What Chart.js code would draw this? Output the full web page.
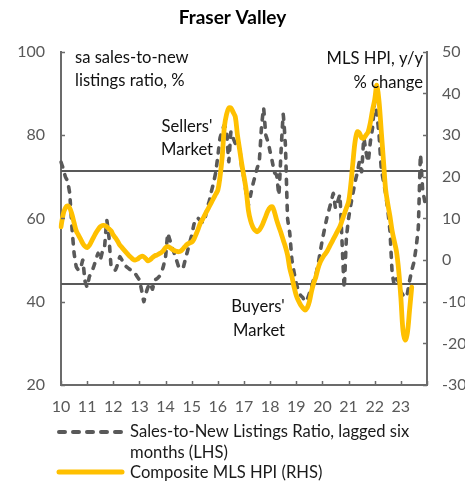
<!DOCTYPE html>
<html>
<head>
<meta charset="utf-8">
<script src="https://cdn.jsdelivr.net/npm/chart.js@4/dist/chart.umd.min.js"></script>
<style>
  html, body { margin: 0; padding: 0; background: #fff; }
  #wrap { position: relative; width: 465px; height: 487px; }
</style>
</head>
<body>
<div id="wrap"><canvas id="chart"></canvas></div>
<script>
// tick labels, one per January
const yearLabels = ['10', '11', '12', '13', '14', '15', '16', '17', '18', '19', '20', '21', '22', '23'];

// monthly categories Jan 2010 .. Jan 2024 (last one is the right edge)
const monthLabels = [];
for (let y = 2010; y <= 2023; y++) {
  for (let m = 1; m <= 12; m++) monthLabels.push(y + '-' + m);
}
monthLabels.push('2024-1');

// sa sales-to-new listings ratio, lagged six months (LHS, %)
const ratioLagged = [
  73.5, 72, 70, 69, 66, 58, 51.7, 48.4, 47.6, 48, 50, 45,          // 2010
  43.5, 46, 47, 48.4, 50, 51.7, 50, 52, 53.2, 59.6, 55.6, 48.4,    // 2011
  47.6, 47.6, 49, 50.8, 50, 49, 48.4, 48, 47.6, 47.2, 46.8, 46,    // 2012
  45.2, 42.8, 40, 42, 43.6, 44.4, 43, 45.2, 45.5, 46, 46.8, 48.5,  // 2013
  50.8, 56.4, 54.8, 53, 51.6, 50, 48.4, 48, 48, 50, 52, 54,        // 2014
  56, 58.5, 60, 60, 59.5, 59, 59.5, 62.5, 64, 66.4, 68.5, 71,      // 2015
  75, 79.3, 81, 82.5, 81, 73.6, 80.8, 79.3, 78, 77.5, 77, 72,      // 2016
  69.7, 66, 63.2, 65.5, 68, 70, 72, 73.6, 81.7, 86.5, 80, 78.4,    // 2017
  76, 73.6, 71, 70.4, 65.6, 76, 85, 77.7, 60, 56.5, 50, 47,        // 2018
  44.5, 42.5, 41.5, 41, 40, 40.5, 42, 43.5, 45.5, 46.5, 49, 52,    // 2019
  55, 57.5, 60, 62, 64, 66, 62.5, 64, 65.6, 54.4, 43.3, 55.3,      // 2020
  60, 63.2, 66, 68.8, 71, 73.6, 71.2, 79.3, 76, 73.6, 78.4, 81.7,  // 2021
  88, 85, 80, 72, 69, 66, 62, 57, 47, 44, 45.5, 44.7,              // 2022
  42.5, 41.6, 41, 42, 45, 47.5, 49.5, 53, 57.7, 75.3, 67, 64       // 2023
];

// composite MLS HPI, y/y % change (RHS)
const hpiYoY = [
  8, 11, 12.5, 13, 12.5, 11, 9, 7, 6, 5, 4, 3.3,                   // 2010
  3, 3.5, 4.5, 5.5, 6.5, 7.3, 8, 8.3, 8.3, 8, 7.5, 7,              // 2011
  6, 5.3, 4.5, 3.6, 3, 2.4, 1.8, 1.2, 0.7, 0.2, 0, 0.2,            // 2012
  0.6, 0.9, 0.8, 0.3, -0.2, 0.1, 0.6, 1, 1.2, 1.5, 1.8, 2.3,       // 2013
  3, 3.2, 3, 2.6, 2.3, 2.1, 2, 2.2, 2.7, 3.3, 3.8, 4.1,            // 2014
  4.3, 5, 6.2, 7.5, 8.9, 9.8, 10.8, 11.8, 12.8, 13.8, 14.8, 15.8,  // 2015
  16.8, 20, 24.8, 32, 35, 36.5, 36.5, 35.5, 34.4, 30, 26.5, 23,    // 2016
  20, 16.8, 12, 9.5, 8, 7.2, 6.8, 7.2, 8, 9.2, 10.5, 11.8,         // 2017
  12.6, 12.8, 11.5, 9.6, 8, 6.5, 4.8, 3.2, 1.2, -2, -4, -6.5,      // 2018
  -8.5, -9.8, -10.8, -11.5, -12, -11.5, -10, -7.5, -5.5, -4, -2, -0.5, // 2019
  0.5, 1.3, 2, 3, 4, 5, 6, 7, 8, 9.5, 11, 12.5,                    // 2020
  14, 18, 23.5, 28.5, 30.8, 30.5, 29.3, 29.3, 30, 30.8, 33, 36,    // 2021
  38.5, 42, 38, 31, 24, 17, 13.5, 10.5, 7, 4.5, 2, -2.5,           // 2022
  -9, -17, -19.2, -17.5, -12, -6.5                                 // 2023
];

// reference levels on the ratio axis
const sellersLevel = 71.4;
const buyersLevel = 44.3;

const axisColor = '#6b6b6b';
const textGrey = '#595959';
const dashGrey = '#595959';
const gold = '#FFC000';
const font = 'Lato, "Noto Sans", sans-serif';

const decor = {
  id: 'decor',
  beforeDatasetsDraw(chart) {
    const {ctx, chartArea: a, scales} = chart;
    ctx.save();
    ctx.strokeStyle = '#595959';
    ctx.lineWidth = 2;
    for (const v of [sellersLevel, buyersLevel]) {
      const y = Math.round(scales.y.getPixelForValue(v));
      ctx.beginPath();
      ctx.moveTo(a.left, y);
      ctx.lineTo(a.right, y);
      ctx.stroke();
    }
    ctx.restore();
  },
  afterDraw(chart) {
    const {ctx, chartArea: a, scales} = chart;
    ctx.save();
    // inward tick marks
    ctx.strokeStyle = axisColor;
    ctx.lineWidth = 1.5;
    ctx.beginPath();
    for (let i = 0; i < monthLabels.length; i += 12) {
      const x = Math.round(scales.x.getPixelForValue(i)) + 0.5;
      ctx.moveTo(x, a.bottom);
      ctx.lineTo(x, a.bottom - 4);
    }
    for (const t of scales.y.ticks) {
      const y = Math.round(scales.y.getPixelForValue(t.value)) + 0.5;
      ctx.moveTo(a.left, y);
      ctx.lineTo(a.left + 4, y);
    }
    for (const t of scales.y1.ticks) {
      const y = Math.round(scales.y1.getPixelForValue(t.value)) + 0.5;
      ctx.moveTo(a.right, y);
      ctx.lineTo(a.right - 4, y);
    }
    ctx.stroke();

    // annotations
    ctx.fillStyle = '#111';
    ctx.font = '16.6px ' + font;
    ctx.textBaseline = 'middle';
    ctx.textAlign = 'left';
    ctx.fillText('sa sales-to-new', 75, 58);
    ctx.fillText('listings ratio, %', 75, 81);
    ctx.textAlign = 'right';
    ctx.fillText('MLS HPI, y/y', 423, 59);
    ctx.fillText('% change', 423, 83);
    ctx.textAlign = 'center';
    ctx.fillText("Sellers'", 187, 127);
    ctx.fillText('Market', 187, 150);
    ctx.fillText("Buyers'", 258, 307);
    ctx.fillText('Market', 259, 331);

    // legend
    ctx.lineCap = 'round';
    ctx.strokeStyle = dashGrey;
    ctx.lineWidth = 4;
    ctx.setLineDash([6, 8]);
    ctx.beginPath();
    ctx.moveTo(59, 432);
    ctx.lineTo(122, 432);
    ctx.stroke();
    ctx.setLineDash([]);
    ctx.strokeStyle = gold;
    ctx.lineWidth = 5;
    ctx.beginPath();
    ctx.moveTo(59, 472);
    ctx.lineTo(122, 472);
    ctx.stroke();
    ctx.fillStyle = '#1a1a1a';
    ctx.textAlign = 'left';
    ctx.fillText('Sales-to-New Listings Ratio, lagged six', 130, 432);
    ctx.fillText('months (LHS)', 130, 453);
    ctx.fillText('Composite MLS HPI (RHS)', 130, 473);
    ctx.restore();
  }
};

new Chart(document.getElementById('chart'), {
  type: 'line',
  data: {
    labels: monthLabels,
    datasets: [
      {
        label: 'Composite MLS HPI (RHS)',
        data: hpiYoY,
        yAxisID: 'y1',
        borderColor: gold,
        borderWidth: 4.8,
        pointRadius: 0,
        tension: 0.35,
        borderCapStyle: 'round',
        order: 0
      },
      {
        label: 'Sales-to-New Listings Ratio, lagged six months (LHS)',
        data: ratioLagged,
        yAxisID: 'y',
        borderColor: dashGrey,
        borderWidth: 3.6,
        borderDash: [5, 8],
        borderCapStyle: 'round',
        pointRadius: 0,
        tension: 0.1,
        order: 1
      }
    ]
  },
  options: {
    responsive: true,
    maintainAspectRatio: false,
    animation: false,
    layout: {padding: {left: 0, right: 0, top: 0, bottom: 70}},
    plugins: {
      legend: {display: false},
      tooltip: {enabled: false},
      title: {
        display: true,
        text: 'Fraser Valley',
        color: '#000',
        font: {family: font, size: 19, weight: 'bold', lineHeight: 1.2},
        padding: {top: 6, bottom: 23}
      }
    },
    scales: {
      x: {
        type: 'category',
        grid: {display: true, drawOnChartArea: false, drawTicks: false},
        border: {display: true, color: axisColor, width: 2},
        afterFit: (s) => { s.height = 32; },
        ticks: {
          autoSkip: false,
          maxRotation: 0,
          padding: 12,
          color: textGrey,
          font: {family: font, size: 16},
          callback: function (val, i) {
            if (i % 12 !== 0) return null;
            return yearLabels[i / 12] || '';
          }
        }
      },
      y: {
        position: 'left',
        min: 20,
        max: 100,
        grid: {display: true, drawOnChartArea: false, drawTicks: false},
        border: {display: true, color: axisColor, width: 2},
        afterFit: (s) => { s.width = 61; },
        ticks: {stepSize: 20, padding: 16, color: textGrey, font: {family: font, size: 16}}
      },
      y1: {
        position: 'right',
        min: -30,
        max: 50,
        grid: {display: true, drawOnChartArea: false, drawTicks: false},
        border: {display: true, color: axisColor, width: 2},
        afterFit: (s) => { s.width = 38; },
        ticks: {stepSize: 10, padding: 15, color: textGrey, font: {family: font, size: 16}}
      }
    }
  },
  plugins: [decor]
});
</script>
</body>
</html>
